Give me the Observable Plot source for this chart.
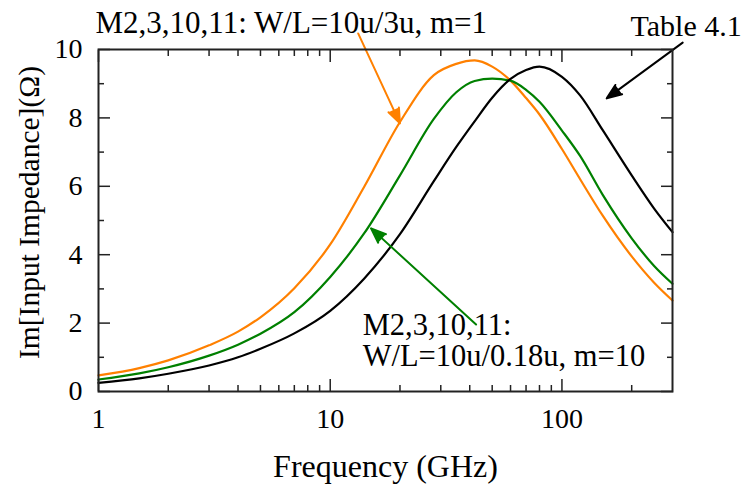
<!DOCTYPE html>
<html>
<head>
<meta charset="utf-8">
<script src="https://cdn.jsdelivr.net/npm/d3@7"></script>
<script src="https://cdn.jsdelivr.net/npm/@observablehq/plot@0.6"></script>
<style>
  body { margin: 0; background: #fff; }
  #chart { width: 747px; height: 484px; }
  #chart svg text { font-family: "Liberation Serif", "Times New Roman", Times, serif; }
</style>
</head>
<body>
<div id="chart"></div>
<script>
// ---- data ----
const freq   = [1, 1.5, 2, 3, 4, 5, 7, 10, 14, 20, 28, 35, 42, 50, 60, 70, 80, 100, 120, 150, 200, 250, 300];
const orange = [0.47, 0.685, 0.91, 1.35, 1.75, 2.17, 3.02, 4.3, 5.98, 7.88, 9.25, 9.58, 9.68, 9.5, 9.09, 8.58, 8.1, 7.09, 6.2, 5.14, 3.95, 3.18, 2.66];
const green  = [0.35, 0.53, 0.71, 1.05, 1.37, 1.69, 2.32, 3.35, 4.62, 6.32, 7.97, 8.75, 9.08, 9.15, 9.09, 8.82, 8.47, 7.63, 6.88, 5.75, 4.48, 3.67, 3.15];
const black  = [0.25, 0.385, 0.52, 0.76, 1.0, 1.25, 1.7, 2.36, 3.3, 4.6, 6.15, 7.15, 7.9, 8.59, 9.14, 9.4, 9.5, 9.2, 8.65, 7.64, 6.32, 5.35, 4.66];

const seriesNames  = ["W/L=10u/3u, m=1", "W/L=10u/0.18u, m=10", "Table 4.1"];
const seriesColors = ["#ff8000", "#008000", "#000000"];

const xMajor = [1, 10, 100];
const xMinor = [2, 3, 4, 5, 6, 7, 8, 9, 20, 30, 40, 50, 60, 70, 80, 90, 200];
const yMajor = [0, 2, 4, 6, 8, 10];
const yMinor = [1, 3, 5, 7, 9];

const xLabel = "Frequency (GHz)";
const yLabel = "Im[Input Impedance](\u03A9)";

const noteTexts   = ["M2,3,10,11: W/L=10u/3u, m=1", "Table 4.1", "M2,3,10,11:\nW/L=10u/0.18u, m=10"];
const noteX       = [0.971, 597, 13.8];
const noteY       = [10.78, 10.69, 1.48];
const noteAnchor  = ["start", "end", "start"];
const noteSize    = [31, 30, 30.5];

const arrowX1 = [13.2, 42.6, 332];
const arrowY1 = [10.47, 1.96, 10.2];
const arrowX2 = [20.0, 15.0, 156];
const arrowY2 = [7.84, 4.77, 8.57];

// ---- tables built from the arrays ----
const seriesValues = [orange, green, black];
const rows = seriesValues.map((vals) => vals.map((v, i) => ({f: freq[i], v})));
const notes = noteTexts.map((t, i) => ({t, x: noteX[i], y: noteY[i], a: noteAnchor[i], s: noteSize[i]}));
const arrows = arrowX1.map((x1, i) => ({x1, y1: arrowY1[i], x2: arrowX2[i], y2: arrowY2[i]}));

const font = "Liberation Serif, Times New Roman, Times, serif";
const tickColor = "#222";

function tickAxis(fn, anchor, ticks, size) {
  return fn({anchor, ticks, tickSize: -size, tickFormat: () => "", label: null,
             stroke: tickColor, strokeWidth: 1.5});
}

const marks = [];
rows.forEach((data, k) => {
  marks.push(Plot.line(data, {x: "f", y: "v", stroke: seriesColors[k], strokeWidth: 2.2, curve: "monotone-x"}));
});
arrows.forEach((a, k) => {
  marks.push(Plot.arrow([a], {x1: "x1", y1: "y1", x2: "x2", y2: "y2",
    stroke: seriesColors[k], fill: seriesColors[k], strokeWidth: 2, headLength: 12, headAngle: 42}));
});
notes.forEach((n) => {
  marks.push(Plot.text([n], {x: "x", y: "y", text: "t", textAnchor: n.a, lineAnchor: "middle",
    fontSize: n.s, lineHeight: 1, fill: "black", fontFamily: font}));
});
marks.push(tickAxis(Plot.axisX, "bottom", xMajor, 12));
marks.push(tickAxis(Plot.axisX, "bottom", xMinor, 6));
marks.push(tickAxis(Plot.axisX, "top", xMajor, 12));
marks.push(tickAxis(Plot.axisX, "top", xMinor, 6));
marks.push(tickAxis(Plot.axisY, "left", yMajor, 12));
marks.push(tickAxis(Plot.axisY, "left", yMinor, 6));
marks.push(tickAxis(Plot.axisY, "right", yMajor, 12));
marks.push(tickAxis(Plot.axisY, "right", yMinor, 6));
marks.push(Plot.axisX({anchor: "bottom", ticks: xMajor, tickSize: 0, tickPadding: 17, tickFormat: d3.format("d"), label: null, fontSize: 28, fontFamily: font}));
marks.push(Plot.axisY({anchor: "left", ticks: yMajor, tickSize: 0, tickPadding: 16, tickFormat: d3.format("d"), label: null, fontSize: 28, fontFamily: font}));
marks.push(Plot.frame({stroke: tickColor, strokeWidth: 2}));
marks.push(Plot.text([xLabel], {frameAnchor: "bottom", dy: 75, text: (d) => d, textAnchor: "middle", lineAnchor: "middle",
  fontSize: 32, fill: "black", fontFamily: font}));
marks.push(Plot.text([yLabel], {frameAnchor: "left", dx: -69, dy: -8, rotate: -90, text: (d) => d, textAnchor: "middle", lineAnchor: "middle",
  fontSize: 29.5, fill: "black", fontFamily: font}));

const chart = Plot.plot({
  width: 747,
  height: 484,
  marginLeft: 98,
  marginRight: 75,
  marginTop: 49,
  marginBottom: 93,
  style: {fontFamily: font, fontSize: "28px", color: "black", background: "white", overflow: "visible"},
  x: {type: "log", domain: [1, 300]},
  y: {domain: [0, 10]},
  marks
});
document.getElementById("chart").appendChild(chart);
</script>
</body>
</html>
